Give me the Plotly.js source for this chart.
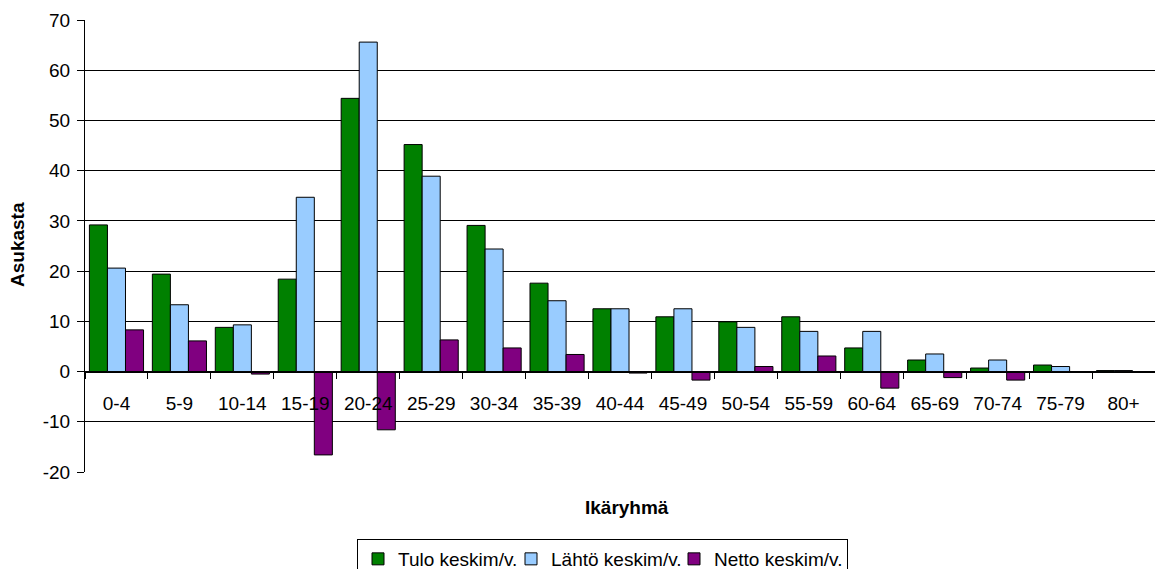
<!DOCTYPE html>
<html>
<head>
<meta charset="utf-8">
<script src="https://cdn.plot.ly/plotly-3.0.1.min.js"></script>
<style>html,body{margin:0;padding:0;background:#fff;}#chart{width:1155px;height:569px;}</style>
</head>
<body>
<div id="chart"></div>
<script>
const categories = ["0-4","5-9","10-14","15-19","20-24","25-29","30-34","35-39","40-44","45-49","50-54","55-59","60-64","65-69","70-74","75-79","80+"];
const tulo  = [29.2, 19.4, 8.8, 18.4, 54.4, 45.2, 29.1, 17.6, 12.5, 10.9, 9.9, 10.9, 4.7, 2.3, 0.7, 1.3, 0.2];
const lahto = [20.6, 13.3, 9.3, 34.7, 65.6, 38.9, 24.4, 14.1, 12.5, 12.5, 8.8, 8.0, 8.0, 3.5, 2.3, 1.0, 0.2];
const netto = [8.3, 6.1, -0.5, -16.6, -11.6, 6.3, 4.7, 3.4, -0.3, -1.7, 1.0, 3.1, -3.3, -1.2, -1.7, 0.0, 0.0];
const seriesNames = ["Tulo keskim/v.", "Lähtö keskim/v.", "Netto keskim/v."];
const colors = ["#008000", "#99CCFF", "#800080"];
const yTickVals = [-20, -10, 0, 10, 20, 30, 40, 50, 60, 70];
const yTickText = ["-20", "-10", "0", "10", "20", "30", "40", "50", "60", "70"];
const legendWidths = [108, 118, 128];

const FONT = "Liberation Sans, Arial, sans-serif";
const data = [tulo, lahto, netto].map((vals, i) => ({
  type: "bar",
  name: seriesNames[i],
  x: categories,
  y: vals,
  legendwidth: legendWidths[i],
  marker: {color: colors[i], line: {color: "#000000", width: 1}},
  hoverinfo: "x+y+name"
}));

const layout = {
  width: 1155, height: 569,
  margin: {l: 85, r: 0, t: 20, b: 97, autoexpand: false},
  paper_bgcolor: "#ffffff",
  plot_bgcolor: "#ffffff",
  font: {family: FONT, color: "#000000", size: 19},
  barmode: "group",
  bargap: 0.14,
  bargroupgap: 0,
  showlegend: true,
  xaxis: {
    type: "category",
    anchor: "free",
    position: 20/90,
    showline: true, linecolor: "#000000", linewidth: 1,
    ticks: "outside", ticklen: 6, tickcolor: "#000000",
    tickson: "boundaries",
    ticklabelstandoff: 15,
    showgrid: false, zeroline: false,
    tickfont: {size: 19, family: FONT}
  },
  yaxis: {
    range: [-20, 70],
    tickmode: "array",
    tickvals: yTickVals,
    ticktext: yTickText,
    showline: true, linecolor: "#000000", linewidth: 1,
    ticks: "outside", ticklen: 7, tickcolor: "#000000",
    ticklabelstandoff: 3,
    showgrid: true, gridcolor: "#000000", gridwidth: 1,
    zeroline: true, zerolinecolor: "#000000", zerolinewidth: 1,
    tickfont: {size: 19, family: FONT}
  },
  legend: {
    orientation: "h",
    x: (357-85)/1070, xanchor: "left",
    y: (472-539)/452, yanchor: "top",
    bordercolor: "#000000", borderwidth: 1,
    font: {size: 19, family: FONT},
    itemwidth: 30,
    tracegroupgap: 0
  },
  annotations: [
    {text: "<b>Ikäryhmä</b>", xref: "paper", yref: "paper", x: (627-85)/1070, y: (472-507)/452,
     xanchor: "center", yanchor: "middle", showarrow: false, font: {size: 19, family: FONT}},
    {text: "<b>Asukasta</b>", xref: "paper", yref: "paper", x: (17-85)/1070, y: (472-245)/452,
     xanchor: "center", yanchor: "middle", textangle: -90, showarrow: false, font: {size: 19, family: FONT}}
  ]
};

Plotly.newPlot("chart", data, layout, {displayModeBar: false, staticPlot: true});
</script>
</body>
</html>
